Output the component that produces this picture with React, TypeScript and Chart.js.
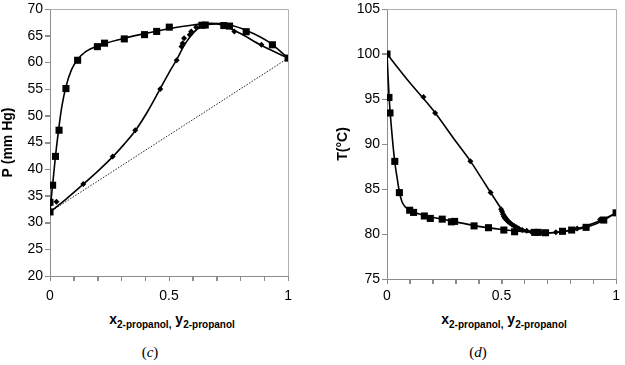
import React, { useEffect, useRef } from 'react';
import { Chart, registerables } from 'chart.js';

Chart.register(...registerables);

// ---------- Panel (c): P-x-y ----------
const cLiqX = [0, 0.0, 0.011, 0.023, 0.038, 0.067, 0.116, 0.199, 0.229, 0.312, 0.397, 0.448, 0.501, 0.638, 0.652, 0.73, 0.754, 0.824, 0.934, 1];
const cLiqP = [32.0, 33.8, 37.0, 42.4, 47.3, 55.1, 60.4, 62.95, 63.6, 64.4, 65.2, 65.8, 66.6, 66.95, 67.0, 66.9, 66.8, 65.75, 63.3, 60.8];
const cVapX = [0.027, 0.14, 0.263, 0.358, 0.463, 0.532, 0.552, 0.557, 0.563, 0.587, 0.593, 0.614, 0.643, 0.736, 0.774, 0.888];
const cVapP = [33.9, 37.25, 42.4, 47.3, 55.0, 60.4, 63.0, 63.6, 64.5, 65.2, 65.8, 66.6, 67.0, 66.85, 65.8, 63.3];
const cLiqCurveX = [0, 0.005, 0.012, 0.022, 0.035, 0.05, 0.068, 0.09, 0.115, 0.15, 0.2, 0.3, 0.4, 0.5, 0.6, 0.67, 0.75, 0.83, 0.92, 1];
const cLiqCurveP = [32, 34.5, 37.5, 42, 47, 51.8, 55.6, 58.6, 60.5, 62, 63.1, 64.4, 65.4, 66.3, 67.0, 67.3, 67.05, 65.9, 63.8, 60.8];
const cVapCurveX = [0, 0.07, 0.14, 0.2, 0.263, 0.31, 0.358, 0.41, 0.462, 0.5, 0.532, 0.56, 0.59, 0.62, 0.66, 0.7, 0.75, 0.8, 0.887, 1];
const cVapCurveP = [32, 34.5, 37.2, 39.6, 42.3, 44.6, 47.2, 50.8, 55.0, 58.1, 60.5, 62.9, 64.9, 66.3, 67.1, 67.2, 66.5, 65.4, 63.2, 60.8];
const cIdealX = [0, 1];
const cIdealP = [32, 60.8];

// ---------- Panel (d): T-x-y ----------
const dLiqX = [0, 0.0085, 0.013, 0.034, 0.054, 0.099, 0.116, 0.163, 0.189, 0.241, 0.281, 0.295, 0.38, 0.443, 0.51, 0.557, 0.645, 0.66, 0.692, 0.766, 0.806, 0.869, 0.946, 1];
const dLiqT = [100, 95.17, 93.45, 88.07, 84.6, 82.64, 82.4, 82.0, 81.73, 81.65, 81.35, 81.4, 80.9, 80.7, 80.44, 80.25, 80.18, 80.18, 80.14, 80.3, 80.44, 80.74, 81.55, 82.35];
const dVapX = [0.159, 0.21, 0.364, 0.452, 0.498, 0.502, 0.506, 0.51, 0.515, 0.52, 0.528, 0.535, 0.545, 0.555, 0.565, 0.575, 0.59, 0.61, 0.63, 0.65, 0.68, 0.737, 0.773, 0.83, 0.93];
const dVapT = [95.23, 93.44, 88.07, 84.6, 82.75, 82.5, 82.2, 81.95, 81.75, 81.6, 81.4, 81.25, 81.05, 80.9, 80.75, 80.6, 80.45, 80.35, 80.25, 80.2, 80.15, 80.2, 80.3, 80.6, 81.6];
const dLiqCurveX = [0, 0.005, 0.01, 0.02, 0.034, 0.045, 0.054, 0.065, 0.08, 0.1, 0.13, 0.17, 0.22, 0.3, 0.4, 0.5, 0.6, 0.69, 0.78, 0.87, 0.94, 1];
const dLiqCurveT = [100, 97.3, 94.9, 91.6, 88.0, 86.1, 84.7, 83.6, 83.0, 82.65, 82.3, 82.0, 81.75, 81.35, 80.85, 80.5, 80.25, 80.12, 80.3, 80.75, 81.45, 82.35];
const dVapCurveX = [0, 0.1, 0.2, 0.3, 0.364, 0.42, 0.46, 0.5, 0.53, 0.56, 0.6, 0.65, 0.7, 0.75, 0.8, 0.87, 0.94, 1];
const dVapCurveT = [100, 96.8, 93.8, 90.3, 88.1, 85.9, 84.3, 82.75, 81.65, 80.95, 80.45, 80.18, 80.12, 80.22, 80.45, 80.9, 81.6, 82.35];

const xLabelTicks = [0, 0.5, 1];
const cYTitle = 'P (mm Hg)';
const dYTitle = 'T(°C)';

const pts = (xs: number[], ys: number[]) => xs.map((x, i) => ({ x, y: ys[i] }));

const AXIS_GRAY = '#8c8c8c';
const FONT = '"Liberation Sans", Arial, sans-serif';
const TICK_LEN = 5;

const framePlugin = {
  id: 'frame',
  afterDraw(chart: any) {
    const { ctx, chartArea } = chart;
    const { left, right, top, bottom } = chartArea;
    const xs = chart.scales.x;
    const ys = chart.scales.y;
    ctx.save();
    ctx.lineWidth = 1;
    // frame (top and right)
    ctx.strokeStyle = '#b0b0b0';
    ctx.beginPath();
    ctx.moveTo(Math.round(left), Math.round(top) + 0.5);
    ctx.lineTo(Math.round(right) + 0.5, Math.round(top) + 0.5);
    ctx.lineTo(Math.round(right) + 0.5, Math.round(bottom));
    ctx.stroke();
    // tick marks
    ctx.strokeStyle = AXIS_GRAY;
    ctx.beginPath();
    const b = Math.round(bottom);
    xs.ticks.forEach((t: any) => {
      const px = Math.round(xs.getPixelForValue(t.value)) + 0.5;
      ctx.moveTo(px, b);
      ctx.lineTo(px, b + TICK_LEN);
    });
    const l = Math.round(left);
    ys.ticks.forEach((t: any) => {
      const py = Math.round(ys.getPixelForValue(t.value)) + 0.5;
      ctx.moveTo(l - TICK_LEN, py);
      ctx.lineTo(l, py);
    });
    ctx.stroke();
    ctx.restore();
  },
};

type PanelProps = {
  left: number;
  width: number;
  height: number;
  padding: { left: number; top: number; right: number; bottom: number };
  yAxisWidth: number;
  xAxisHeight: number;
  xTickPad: number;
  yMin: number;
  yMax: number;
  yTitle: string;
  datasets: any[];
};

function Panel(p: PanelProps) {
  const ref = useRef<HTMLCanvasElement | null>(null);
  useEffect(() => {
    if (!ref.current) return;
    const mkGrid = () => ({
      display: true,
      drawOnChartArea: false,
      drawTicks: true,
      tickLength: TICK_LEN,
      tickWidth: 1,
      tickColor: AXIS_GRAY,
      color: AXIS_GRAY,
      lineWidth: 1,
    });
    const chart = new Chart(ref.current, {
      type: 'scatter',
      data: { datasets: p.datasets },
      plugins: [framePlugin],
      options: {
        animation: false,
        responsive: false,
        maintainAspectRatio: false,
        events: [],
        layout: { padding: p.padding },
        plugins: { legend: { display: false }, tooltip: { enabled: false } },
        scales: {
          x: {
            type: 'linear',
            min: 0,
            max: 1,
            afterFit: (s: any) => { s.height = p.xAxisHeight; },
            ticks: {
              stepSize: 0.1,
              autoSkip: false,
              maxRotation: 0,
              padding: p.xTickPad,
              color: '#000',
              font: { family: FONT, size: 14, lineHeight: 1 },
              callback: (v: any) => {
                const n = Number(v);
                const hit = xLabelTicks.find((t) => Math.abs(t - n) < 1e-6);
                return hit === undefined ? '' : String(hit);
              },
            },
            grid: mkGrid(),
            border: { display: true, color: AXIS_GRAY, width: 1 },
          },
          y: {
            type: 'linear',
            min: p.yMin,
            max: p.yMax,
            afterFit: (s: any) => { s.width = p.yAxisWidth; },
            ticks: {
              stepSize: 5,
              padding: 2,
              color: '#000',
              font: { family: FONT, size: 14, lineHeight: 1 },
            },
            title: {
              display: true,
              text: p.yTitle,
              color: '#000',
              padding: { top: 0, bottom: 0 },
              font: { family: FONT, size: 14, weight: 'bold' },
            },
            grid: mkGrid(),
            border: { display: true, color: AXIS_GRAY, width: 1 },
          },
        },
      } as any,
    });
    return () => chart.destroy();
  }, []);
  return (
    <canvas
      ref={ref}
      width={p.width}
      height={p.height}
      style={{ position: 'absolute', left: p.left, top: 0, width: p.width, height: p.height }}
    />
  );
}

const markerSet = (data: any[], style: string, radius: number) => ({
  data,
  showLine: false,
  pointStyle: style,
  pointRadius: radius,
  pointBackgroundColor: '#000',
  pointBorderColor: '#000',
  pointBorderWidth: 0,
});

const curveSet = (data: any[]) => ({
  data,
  showLine: true,
  pointRadius: 0,
  borderColor: '#000',
  borderWidth: 1.6,
  cubicInterpolationMode: 'monotone',
  fill: false,
});

const cDatasets = [
  markerSet(pts(cLiqX, cLiqP), 'rect', 5),
  markerSet(pts(cVapX, cVapP), 'rectRot', 3),
  curveSet(pts(cLiqCurveX, cLiqCurveP)),
  curveSet(pts(cVapCurveX, cVapCurveP)),
  { data: pts(cIdealX, cIdealP), showLine: true, pointRadius: 0, borderColor: '#222', borderWidth: 1, borderDash: [1.5, 1.5], fill: false },
];

const dDatasets = [
  markerSet(pts(dLiqX, dLiqT), 'rect', 5),
  markerSet(pts(dVapX, dVapT), 'rectRot', 3),
  curveSet(pts(dLiqCurveX, dLiqCurveT)),
  curveSet(pts(dVapCurveX, dVapCurveT)),
];

const subStyle: React.CSSProperties = { fontSize: 10, verticalAlign: 'sub', lineHeight: 0 };

function XTitle({ center }: { center: number }) {
  return (
    <div
      style={{
        position: 'absolute', left: center - 100, width: 200, top: 311, textAlign: 'center',
        fontFamily: FONT, fontWeight: 'bold', fontSize: 14, lineHeight: '16px', color: '#000', whiteSpace: 'nowrap',
      }}
    >
      x<span style={subStyle}>2-propanol,</span> y<span style={subStyle}>2-propanol</span>
    </div>
  );
}

function Caption({ center, letter }: { center: number; letter: string }) {
  return (
    <div
      style={{
        position: 'absolute', left: center - 30, width: 60, top: 343, textAlign: 'center',
        fontFamily: '"Liberation Serif", "Times New Roman", serif', fontSize: 15, lineHeight: '18px', color: '#000',
      }}
    >
      (<i>{letter}</i>)
    </div>
  );
}

export default function App() {
  return (
    <div style={{ position: 'absolute', left: 0, top: 0, width: 625, height: 365, background: '#fff', overflow: 'hidden' }}>
      <Panel
        left={0}
        width={300}
        height={300}
        padding={{ left: 0, top: 7, right: 7, bottom: 0 }}
        yAxisWidth={50}
        xAxisHeight={24}
        xTickPad={8}
        yMin={20}
        yMax={70}
        yTitle={cYTitle}
        datasets={cDatasets}
      />
      <Panel
        left={310}
        width={315}
        height={300}
        padding={{ left: 25, top: 7, right: 3, bottom: 0 }}
        yAxisWidth={52}
        xAxisHeight={21}
        xTickPad={5}
        yMin={75}
        yMax={105}
        yTitle={dYTitle}
        datasets={dDatasets}
      />
      <XTitle center={172} />
      <XTitle center={504} />
      <Caption center={150} letter="c" />
      <Caption center={478} letter="d" />
    </div>
  );
}
